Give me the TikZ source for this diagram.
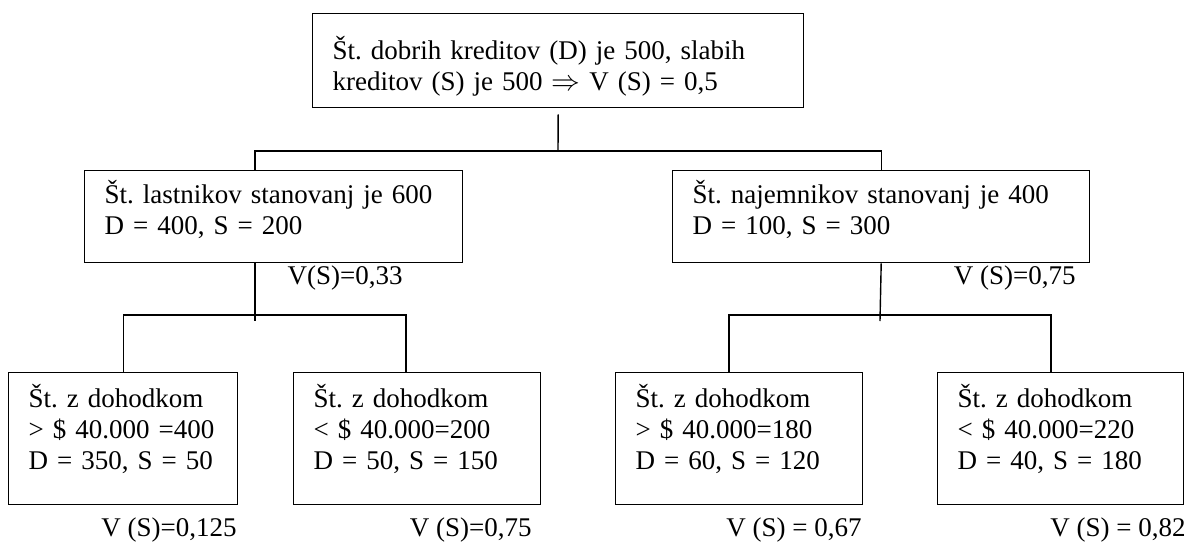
\documentclass[tikz,border=0pt]{standalone}
\usepackage{fontspec}
\setmainfont{Liberation Serif}
\usepackage{tikz}
\frenchspacing

\tikzset{
  kbox/.style={draw, line width=0.7pt, anchor=north west, align=left, inner xsep=10pt, inner ysep=0pt, font=\fontsize{13.5}{15.5}\selectfont},
  vlabel/.style={anchor=east, inner sep=0pt, font=\fontsize{13.5}{15.5}\selectfont},
  link/.style={line width=0.7pt}
}

\begin{document}
\begin{tikzpicture}[x=0.5pt,y=-0.5pt]
    \useasboundingbox (0,0) rectangle (1190,542);

    % Root
    \node[kbox, text width=225.5pt, text height=23pt, text depth=24pt] (root) at (312,13) {Št. dobrih kreditov (D) je 500, slabih\\ kreditov (S) je 500 $\Rightarrow$ V (S) = 0,5};

    % Owners and tenants
    \node[kbox, text width=169pt, text height=16.5pt, text depth=29.5pt] (own) at (84,170) {Št. lastnikov stanovanj je 600\\ D = 400, S = 200};
    \node[kbox, text width=188.5pt, text height=16.5pt, text depth=29.5pt] (rent) at (672,170) {Št. najemnikov stanovanj je 400\\ D = 100, S = 300};
    \node[vlabel] (vown) at (403,278) {V(S)=0,33};
    \node[vlabel] (vrent) at (1076,278) {V (S)=0,75};

    % Income groups
    \node[kbox, text width=94.5pt, text height=17.5pt, text depth=48.5pt] (hi1) at (8,372) {Št. z dohodkom\\ > \$ 40.000 =400\\ D = 350, S = 50};
    \node[kbox, text width=103.5pt, text height=17.5pt, text depth=48.5pt] (lo1) at (293,372) {Št. z dohodkom\\ < \$ 40.000=200\\ D = 50, S = 150};
    \node[kbox, text width=103.5pt, text height=17.5pt, text depth=48.5pt] (hi2) at (615,372) {Št. z dohodkom\\ > \$ 40.000=180\\ D = 60, S = 120};
    \node[kbox, text width=103pt, text height=17.5pt, text depth=48.5pt] (lo2) at (937,372) {Št. z dohodkom\\ < \$ 40.000=220\\ D = 40, S = 180};
    \node[vlabel] (vhi1) at (237,530) {V (S)=0,125};
    \node[vlabel] (vlo1) at (532,530) {V (S)=0,75};
    \node[vlabel] (vhi2) at (862,530) {V (S) = 0,67};
    \node[vlabel] (vlo2) at (1186,530) {V (S) = 0,82};

    % Connectors
    \coordinate (top) at (558,151);
    \coordinate (ownjoin) at (255,315);
    \coordinate (rentjoin) at (880,315);
    \draw[link] ([yshift=-3pt]root.south) -- (top);
    \draw[link] ([xshift=85.5pt]own.north west) |- (top) -| (rent.north);
    \draw[link] ([xshift=85.5pt]own.south west) -- ([yshift=-3pt]ownjoin);
    \draw[link] (hi1.north) |- (ownjoin) -| ([xshift=56.5pt]lo1.north west);
    \draw[link] (rent.south) -- ([yshift=-3pt]rentjoin);
    \draw[link] ([xshift=57pt]hi2.north west) |- (rentjoin) -| ([xshift=57pt]lo2.north west);
    \draw[line width=1.4pt] (142,315) -- (161,315);
\end{tikzpicture}
\end{document}
